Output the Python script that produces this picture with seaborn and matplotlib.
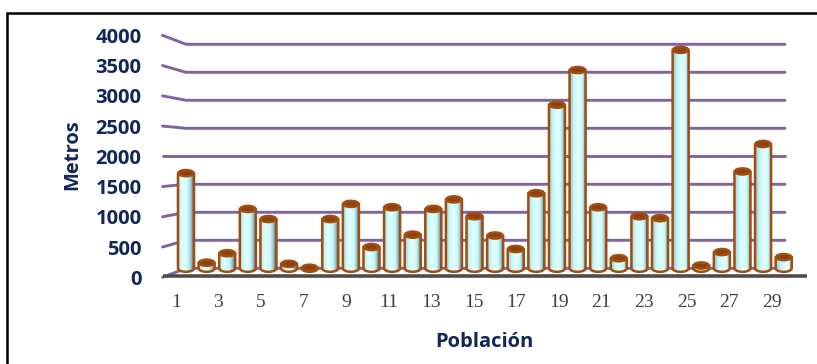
import numpy as np
import pandas as pd
import matplotlib
matplotlib.use("Agg")
import matplotlib.pyplot as plt
import seaborn as sns
from matplotlib.patches import Polygon, Ellipse
from matplotlib.lines import Line2D
from matplotlib.colors import LinearSegmentedColormap

# ---- data -------------------------------------------------------------
poblacion = list(range(1, 31))
metros = [1700, 100, 270, 1060, 880, 80, 10, 880, 1150, 380,
          1090, 600, 1060, 1230, 930, 585, 345, 1340, 2920, 3540,
          1090, 180, 930, 895, 3900, 50, 290, 1730, 2220, 200]
y_ticks = [0, 500, 1000, 1500, 2000, 2500, 3000, 3500, 4000]
x_tick_labels = [str(n) for n in range(1, 30, 2)]

# ---- style ------------------------------------------------------------
NAVY = "#0F275A"
PURPLE = "#8064A2"
BROWN = "#A14E10"
CAP_INNER = "#8C420C"
FLOOR = "#4D4D4D"
BOLD_FONT = ["Open Sans", "DejaVu Sans"]
TICK_FONT = ["Liberation Serif", "DejaVu Serif"]

sns.set_theme(style="white")

W, H = 817, 364
fig = plt.figure(figsize=(W / 100, H / 100), dpi=100)
fig.patch.set_facecolor("white")

# axes placed in pixel units of the figure
ax_left, ax_right, ax_top, ax_bottom = 160, 812, 30.3, 282.3
ax = fig.add_axes([ax_left / W, (H - ax_bottom) / H,
                   (ax_right - ax_left) / W, (ax_bottom - ax_top) / H])

df = pd.DataFrame({"Población": poblacion, "Metros": metros})
sns.barplot(data=df, x="Población", y="Metros", color="#CFFAFC",
            width=0.78, errorbar=None, ax=ax, zorder=3)

y_lo, y_hi = -250, 4250
x_lo, x_hi = -1.2615, 30.374
ax.set_ylim(y_lo, y_hi)
ax.set_xlim(x_lo, x_hi)

# elliptical caps: 7 px tall, converted to data units
px_per_y = (ax_bottom - ax_top) / (y_hi - y_lo)
cap_h = 7.0 / px_per_y
ry = cap_h / 2

# cylinder shading
shade = LinearSegmentedColormap.from_list(
    "cyl", ["#2F5058", "#5F8B94", "#9FD0D6", "#C8F6F8", "#DEFFFF"])

n_bars = len(ax.patches)
rects = list(ax.patches)
for i, rect in enumerate(rects):
    x0, w, h = rect.get_x(), rect.get_width(), rect.get_height()
    xc = x0 + w / 2
    rect.remove()

    t = np.linspace(np.pi, 2 * np.pi, 40)
    bottom = np.column_stack([xc + (w / 2) * np.cos(t), ry * np.sin(t)])
    verts = np.vstack([[x0, h], bottom, [x0 + w, h]])
    body = Polygon(verts, closed=True, facecolor="none", edgecolor=BROWN,
                   linewidth=1.8, zorder=4, joinstyle="round")
    ax.add_patch(body)

    # highlight drifts from left to right across the chart
    p = 0.30 + 0.35 * i / max(n_bars - 1, 1)
    u = np.linspace(0, 1, 64)
    d = np.where(u < p, (p - u) / p, (u - p) / (1 - p))
    level = np.clip(1 - d ** 1.6 * np.where(u < p, 0.6, 1.0), 0, 1)
    im = ax.imshow(level[None, :], extent=[x0, x0 + w, -ry, h],
                   aspect="auto", cmap=shade, vmin=0, vmax=1,
                   interpolation="bilinear", zorder=3.5)
    im.set_clip_path(body)

    ax.add_patch(Ellipse((xc, h), w, cap_h, facecolor=BROWN,
                         edgecolor=BROWN, linewidth=1.2, zorder=5))
    ax.add_patch(Ellipse((xc, h), w * 0.72, cap_h * 0.55,
                         facecolor=CAP_INNER, edgecolor="none", zorder=5.1))

ax.set_ylim(y_lo, y_hi)
ax.set_xlim(x_lo, x_hi)

# back-wall gridlines with their slanted side-wall stubs
stub_x = -1.14
grid_end = 29.06
slant = 0.0804
for v in y_ticks:
    ax.plot([stub_x, 0, grid_end], [v + slant * (v - 2000), v, v],
            color=PURPLE, lw=2.1, zorder=1, solid_capstyle="round")

# floor edge
ax.plot([stub_x, 30.13], [-129, -129], color=FLOOR, lw=2.6, zorder=2,
        solid_capstyle="butt")

# y tick labels sit at the outer end of each stub
ax.set_yticks([v + slant * (v - 2000) for v in y_ticks],
              labels=[str(v) for v in y_ticks])
for lab in ax.get_yticklabels():
    lab.set_fontfamily(BOLD_FONT)
    lab.set_fontweight("bold")
    lab.set_fontsize(14.5)
    lab.set_color(NAVY)

# category labels on the (wider) front edge
front = 1.033
ax.set_xticks([(int(s) - 1) * front - 0.5 for s in x_tick_labels],
              labels=x_tick_labels)
for lab in ax.get_xticklabels():
    lab.set_fontfamily(TICK_FONT)
    lab.set_fontsize(14)
    lab.set_color("#404040")

ax.tick_params(axis="y", length=0, pad=13.2)
ax.tick_params(axis="x", length=0, pad=8.4)

ax.set_xlabel("Población", fontfamily=BOLD_FONT, fontweight="bold",
              fontsize=14.5, color=NAVY)
ax.xaxis.set_label_coords(0.497, -0.2357)
ax.xaxis.label.set_va("center")
ax.set_ylabel("Metros", fontfamily=BOLD_FONT, fontweight="bold",
              fontsize=14.5, color=NAVY)
ax.yaxis.set_label_coords(-0.1342, 0.505)
ax.yaxis.label.set_va("center")

for s in ax.spines.values():
    s.set_visible(False)
ax.grid(False)
ax.set_facecolor("none")

# chart frame (left and top edges visible)
fx, fy = 7 / W, 1 - 13 / H
fig.add_artist(Line2D([fx, fx], [0, fy], transform=fig.transFigure,
                      color="black", lw=1.8))
fig.add_artist(Line2D([fx, 1], [fy, fy], transform=fig.transFigure,
                      color="black", lw=1.8))

fig.savefig("out.png", dpi=100, facecolor="white")
